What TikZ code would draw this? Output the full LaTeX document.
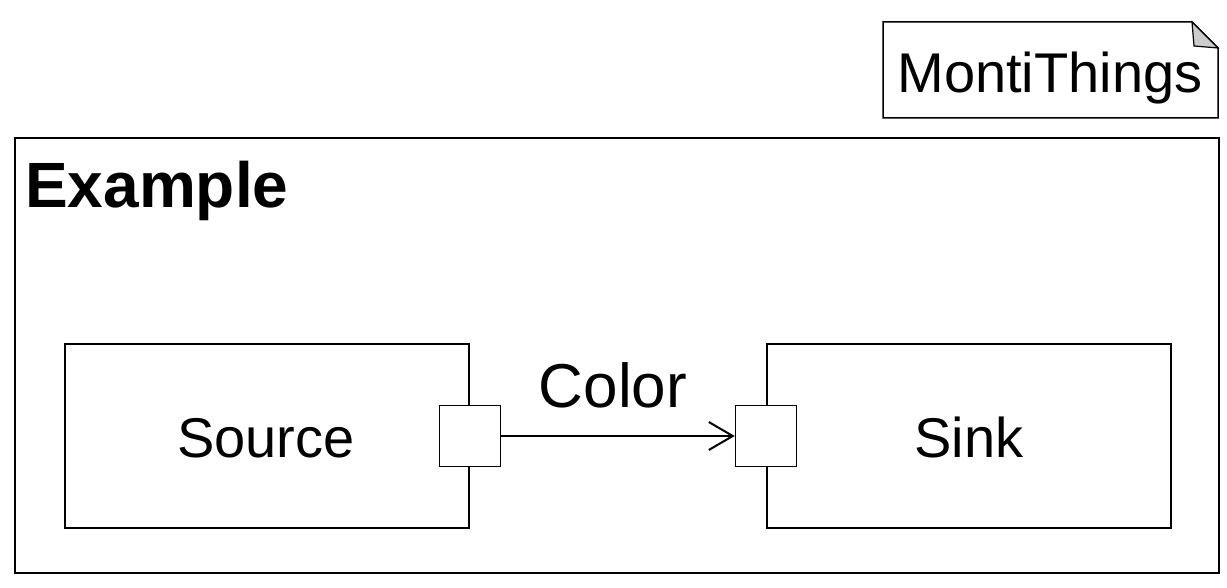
\documentclass[tikz,border=0pt]{standalone}
\usepackage{fontspec}
\setmainfont{Liberation Sans}
\usetikzlibrary{arrows.meta}
\begin{document}
\begin{tikzpicture}[x=1pt,y=-1pt,
  frame/.style={draw,line width=2pt},
  comp/.style={draw,line width=2pt,fill=white,inner sep=0,minimum width=404pt,minimum height=184pt,anchor=north west},
  port/.style={draw,line width=1.5pt,fill=white,inner sep=0,minimum width=61pt,minimum height=61pt},
  lbl/.style={inner sep=0,anchor=base,font=\fontsize{56}{60}\selectfont},
  conn/.style={line width=2pt,-{Straight Barb[length=24pt,width=28pt,line width=2pt]}}]
\useasboundingbox (0,0) rectangle (1227,588);
% note
\draw[line width=1.5pt,fill=white] (883,22) -- (1192,22) -- (1218,48) -- (1218,118) -- (883,118) -- cycle;
\draw[line width=1.2pt,fill=black!20] (1192,22) -- (1194,46) -- (1218,48) -- cycle;
\node[lbl] (note) at (1050,93) {MontiThings};
% outer frame
\node[draw,line width=2pt,inner sep=0,minimum width=1204pt,minimum height=435pt,anchor=north west] (frame) at (14,137) {};
\node[inner sep=0,anchor=base west,font=\fontsize{64}{68}\selectfont\bfseries] (title) at (25,208) {Example};
% components
\node[comp] (source) at (64,343) {};
\node[comp] (sink) at (766,343) {};
\node[lbl] at (266,457) {Source};
\node[lbl] at (969,457) {Sink};
% ports
\node[port] (sp) at (source.east) {};
\node[port] (kp) at (sink.west) {};
% connector
\draw[conn] (sp.east) -- (kp.west);
\node[inner sep=0,anchor=base,font=\fontsize{62}{66}\selectfont] (clr) at (613,407) {Color};
\end{tikzpicture}
\end{document}
